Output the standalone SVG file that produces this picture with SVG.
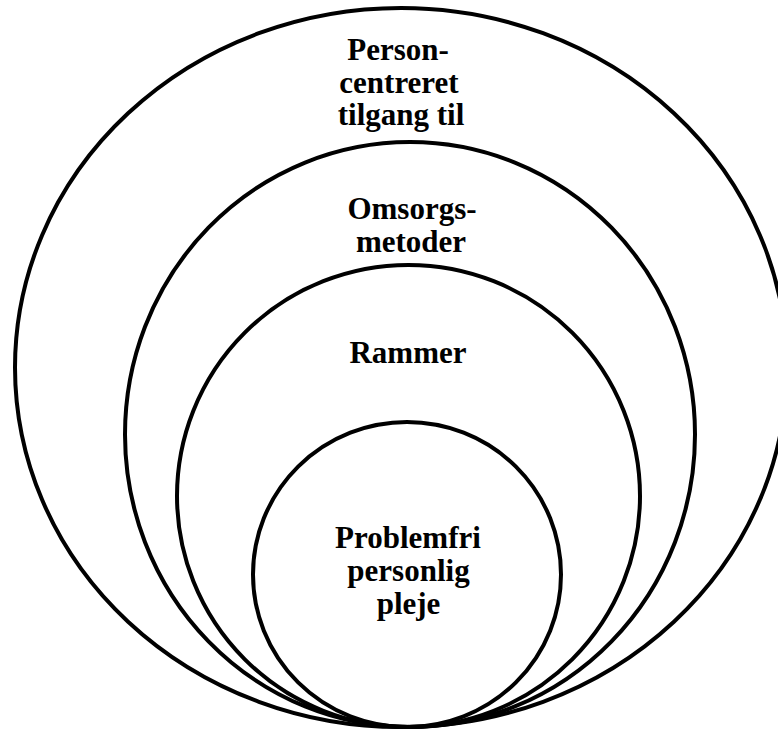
<svg xmlns="http://www.w3.org/2000/svg" width="778" height="731" viewBox="0 0 778 731">
<style>
.ring{fill:none;stroke:#000;stroke-width:4}
.lbl{font-family:"Liberation Serif","Times New Roman",serif;font-weight:bold;font-size:31px;fill:#000;text-anchor:middle}
</style>
<rect width="778" height="731" fill="#fff"/>
<g id="outer">
<ellipse class="ring" cx="401" cy="367.5" rx="386" ry="359.5"/>
<text class="lbl" x="398" y="60">Person-</text>
<text class="lbl" x="399" y="92.5">centreret</text>
<text class="lbl" x="401" y="125">tilgang til</text>
</g>
<g id="methods">
<ellipse class="ring" cx="410" cy="434.5" rx="285" ry="292.5"/>
<text class="lbl" x="412" y="219">Omsorgs-</text>
<text class="lbl" x="411" y="251.5">metoder</text>
</g>
<g id="frames">
<ellipse class="ring" cx="408.5" cy="496" rx="231.5" ry="231"/>
<text class="lbl" x="408" y="362.5">Rammer</text>
</g>
<g id="care">
<ellipse class="ring" cx="407" cy="574.5" rx="154" ry="152.5"/>
<text class="lbl" x="408" y="548">Problemfri</text>
<text class="lbl" x="408.5" y="581">personlig</text>
<text class="lbl" x="408.5" y="614">pleje</text>
</g>
<g id="connectors"/>
</svg>
